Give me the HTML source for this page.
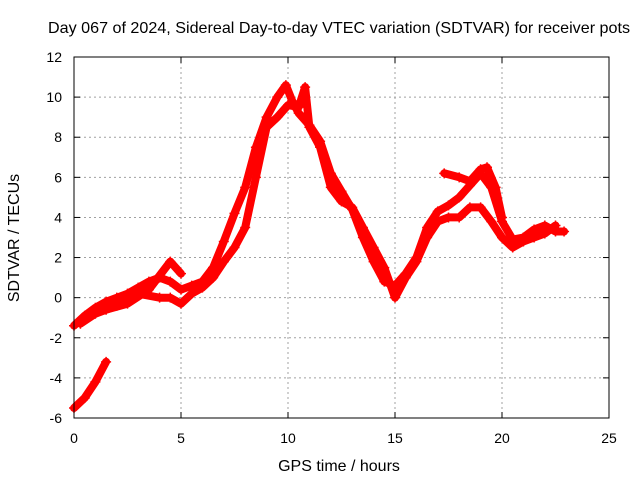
<!DOCTYPE html>
<html><head><meta charset="utf-8">
<style>
body{margin:0;background:#fff;}
svg{display:block;font-family:"Liberation Sans",sans-serif;}
</style></head>
<body>
<svg id="chart" width="640" height="480" viewBox="0 0 640 480">
<rect width="640" height="480" fill="#fff"/>
<text x="48" y="33" textLength="582" lengthAdjust="spacingAndGlyphs" font-size="16" fill="#000">Day 067 of 2024, Sidereal Day-to-day VTEC variation (SDTVAR) for receiver pots</text>
<g id="grid"></g>
<g id="series"></g>
<rect x="74" y="57" width="535" height="361" fill="none" stroke="#000" stroke-width="1"/>
<g id="axes"></g>
<text x="339" y="471" text-anchor="middle" font-size="16">GPS time / hours</text>
<text transform="translate(19,238) rotate(-90)" text-anchor="middle" font-size="16">SDTVAR / TECUs</text>
</svg>
<script>
const xTicks=[0,5,10,15,20,25];
const yTicks=[-6,-4,-2,0,2,4,6,8,10,12];
const bandAHours=[0,0.5,1,1.5,2,2.5,3,3.5,4,4.5,5,5.5,6,6.5,7,7.5,8,8.5,9,9.5,9.9,10.2,10.5,11,11.5,12,12.5,13,13.5,14,14.5,15,15.5,16,16.5,17,17.5,18,18.5,19,19.5,20,20.5,21,21.5,22,22.5,22.9];
const bandAValues=[-1.4,-0.9,-0.5,-0.2,0,0.2,0.5,0.8,1,0.8,0.4,0.6,0.8,1.5,2.8,4.2,5.5,7.5,9,10,10.6,9.8,9.2,8.6,7.8,6.2,5.3,4.4,3,1.8,0.8,0.6,1.2,2,3.5,4.3,4.6,5,5.6,6.2,5.5,3.8,2.9,3,3.4,3.6,3.3,3.3];
const bandBHours=[0.3,1,2,3,4,4.5,5,5.5,6,6.5,7,7.5,8,8.5,9,9.5,10,10.5,10.8,11,11.5,12,12.5,13,13.5,14,14.5,15,15.5,16,16.5,17,17.5,18,18.5,19,19.5,20,20.5,21,21.5,22,22.5];
const bandBValues=[-1.3,-0.8,-0.4,0.2,0,0,-0.3,0.2,0.5,1,1.8,2.5,3.5,6,8.5,9,9.6,9.5,10.5,8.5,7.5,5.5,4.8,4.5,3.5,2.5,1.5,0,1,1.8,3,3.8,4,4,4.5,4.5,3.8,3,2.5,2.8,3,3.2,3.6];
const bandCHours=[0,0.5,1,1.5];
const bandCValues=[-5.5,-5,-4.2,-3.2];
const bandDHours=[1.5,2.5,3.5,4.5,5];
const bandDValues=[-0.6,-0.3,0.4,1.8,1.2];
const bandEHours=[17.3,18,18.5,19,19.3,19.7,20];
const bandEValues=[6.2,6,5.8,6.4,6.5,5.5,4];
const allSeries=[[bandAHours,bandAValues],[bandBHours,bandBValues],[bandCHours,bandCValues],[bandDHours,bandDValues],[bandEHours,bandEValues]];
const NS="http://www.w3.org/2000/svg";
const X0=74,X1=609,Y0=418,Y1=57;
function xs(v){return X0+(v-0)/25*(X1-X0);}
function ys(v){return Y0-(v+6)/18*(Y0-Y1);}
const grid=document.getElementById('grid'),axes=document.getElementById('axes'),ser=document.getElementById('series');
function mk(tag,attrs,parent){const e=document.createElementNS(NS,tag);for(const k in attrs)e.setAttribute(k,attrs[k]);parent.appendChild(e);return e;}
xTicks.forEach(t=>{
  const x=xs(t);
  if(t>0&&t<25){const g=mk('line',{x1:x,x2:x,y1:Y1,y2:Y0,stroke:'#a0a0a0','stroke-dasharray':'2,3'},grid);
  
  }
  mk('line',{x1:x,x2:x,y1:Y0,y2:Y0-6,stroke:'#000'},axes);
  mk('line',{x1:x,x2:x,y1:Y1,y2:Y1+6,stroke:'#000'},axes);
  const l=mk('text',{x:x,y:443,'text-anchor':'middle','font-size':'14'},axes);l.textContent=t;
  
  
});
yTicks.forEach(t=>{
  const y=ys(t);
  if(t>-6&&t<12){const g=mk('line',{x1:X0,x2:X1,y1:y,y2:y,stroke:'#a0a0a0','stroke-dasharray':'2,3'},grid);
  
  }
  mk('line',{x1:X0,x2:X0+6,y1:y,y2:y,stroke:'#000'},axes);
  mk('line',{x1:X1,x2:X1-6,y1:y,y2:y,stroke:'#000'},axes);
  const l=mk('text',{x:62,y:y+5,'text-anchor':'end','font-size':'14'},axes);l.textContent=t;
  
  
});
allSeries.forEach((s,i)=>{
  const pts=s[0].map((h,j)=>xs(h).toFixed(1)+','+ys(s[1][j]).toFixed(1)).join(' ');
  const p=mk('polyline',{points:pts,fill:'none',stroke:'#ff0000','stroke-width':'8','stroke-linejoin':'round','stroke-linecap':'round'},ser);
  
  
  s[0].forEach((h,j)=>{
    const x=xs(h),y=ys(s[1][j]);
    const m=mk('path',{d:`M${x-5},${y}h10M${x},${y-5}v10`,stroke:'#ff0000','stroke-width':'1.5'},ser);
    
    
  });
});
</script>
</body></html>
